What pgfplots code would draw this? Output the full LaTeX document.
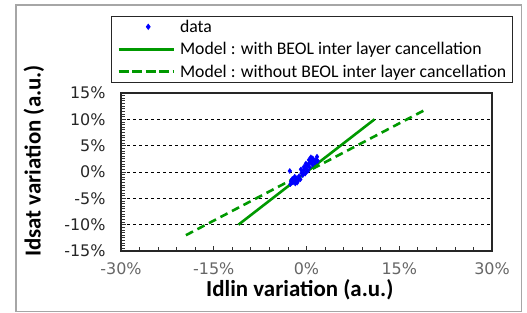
\documentclass[border=0pt]{standalone}
\usepackage{fontspec}
\setmainfont{Carlito}
\newfontfamily\tickfont{DejaVu Sans}
\usepackage{pgfplots}
\pgfplotsset{compat=1.18}
\definecolor{mgreen}{RGB}{0,153,0}
\definecolor{frameg}{RGB}{166,166,166}
\pgfplotsset{
  markleg/.style={legend image code/.code={\draw[##1] plot coordinates {(29.5bp,0bp)};}},
  lineleg/.style={legend image code/.code={\draw[##1] (0bp,0bp) -- (55bp,0bp);}},
  dashleg/.style={legend image code/.code={\draw[##1, dash pattern=on 10bp off 3.5bp] (0bp,0bp) -- (55bp,0bp);}},
}
\begin{document}
\begin{tikzpicture}
\path[use as bounding box] (0bp,0bp) rectangle (527bp,313bp);
\draw[frameg, line width=1.5bp] (16bp,1.5bp) rectangle (521.5bp,308bp);
\begin{axis}[
  at={(121bp,62bp)}, anchor=south west,
  scale only axis, width=371bp, height=158bp,
  xmin=-30, xmax=30, ymin=-15, ymax=15,
  xtick={-30,-15,0,15,30}, ytick={-15,-10,...,15},
  xticklabels={-30\%,-15\%,0\%,15\%,30\%},
  yticklabels={-15\%,-10\%,-5\%,0\%,5\%,10\%,15\%},
  minor x tick num=4, minor y tick num=9,
  tick align=inside, xtick pos=bottom, ytick pos=left,
  major tick length=5bp, minor tick length=4bp,
  every tick/.style={black!80, line width=0.8bp},
  axis line style={black!85, line width=1.1bp},
  ymajorgrids, grid style={black, line width=0.8bp, dash pattern=on 3bp off 3bp},
  xticklabel style={font=\tickfont\fontsize{16}{16}\selectfont, text=black!60, yshift=-8.5bp},
  yticklabel style={font=\tickfont\fontsize{16}{16}\selectfont, text=black!85, xshift=-12bp},
  xlabel={Idlin variation (a.u.)},
  ylabel={Idsat variation (a.u.)},
  xlabel style={font=\bfseries\fontsize{23}{23}\selectfont, at={(axis description cs:0.482,-0.245)}, anchor=center},
  ylabel style={font=\bfseries\fontsize{23}{23}\selectfont, at={(axis description cs:-0.235,0.57)}, anchor=center},
  legend cell align=left,
  legend style={at={(axis description cs:-0.027,1.065)}, anchor=south west,
    draw=black!85, line width=0.9bp, font=\fontsize{17.8}{17.8}\selectfont,
    inner xsep=6bp, inner ysep=2bp, row sep=5.5bp, column sep=5bp,
    nodes={inner sep=0bp, text height=14bp, text depth=3bp}},
  clip=false,
]
\addplot[only marks, mark=diamond*, mark size=2.5bp, color=blue, markleg]
coordinates {
(-2.7,0.2) (-2.5,-1.8) (-2.2,-2.0) (-2.0,-1.5) (-1.8,-2.2) (-1.6,-1.2)
(-1.4,-1.7) (-1.2,-0.8) (-1.0,-1.4) (-0.8,-0.2) (-0.6,-0.6) (-0.5,0.3)
(-0.3,0.8) (-0.2,-0.3) (0,0.5) (0.1,1.2) (0.3,1.5) (0.5,0.9) (0.6,1.8)
(0.8,2.0) (1.0,1.4) (1.2,2.2) (1.4,1.8) (1.6,2.4) (1.8,2.1) (-0.4,1.0) (0.2,0.2)
(-2.3,-1.3) (-1.5,-2.0) (0.4,2.3) (1.0,2.6) (-2.6,-2.3) (-0.9,0.5) (0.7,2.8)
(1.7,2.9) (-1.9,-0.9) (-0.1,1.6)
};
\addlegendentry{data}
\addplot[mgreen, line width=2.6bp, lineleg]
coordinates {(-11,-10) (11,10)};
\addlegendentry{Model : with BEOL inter layer cancellation}
\addplot[mgreen, line width=2.6bp, dash pattern=on 8bp off 5bp, dashleg]
coordinates {(-19.5,-12) (19.5,12)};
\addlegendentry{Model : without BEOL inter layer cancellation}
\end{axis}
\end{tikzpicture}
\end{document}
